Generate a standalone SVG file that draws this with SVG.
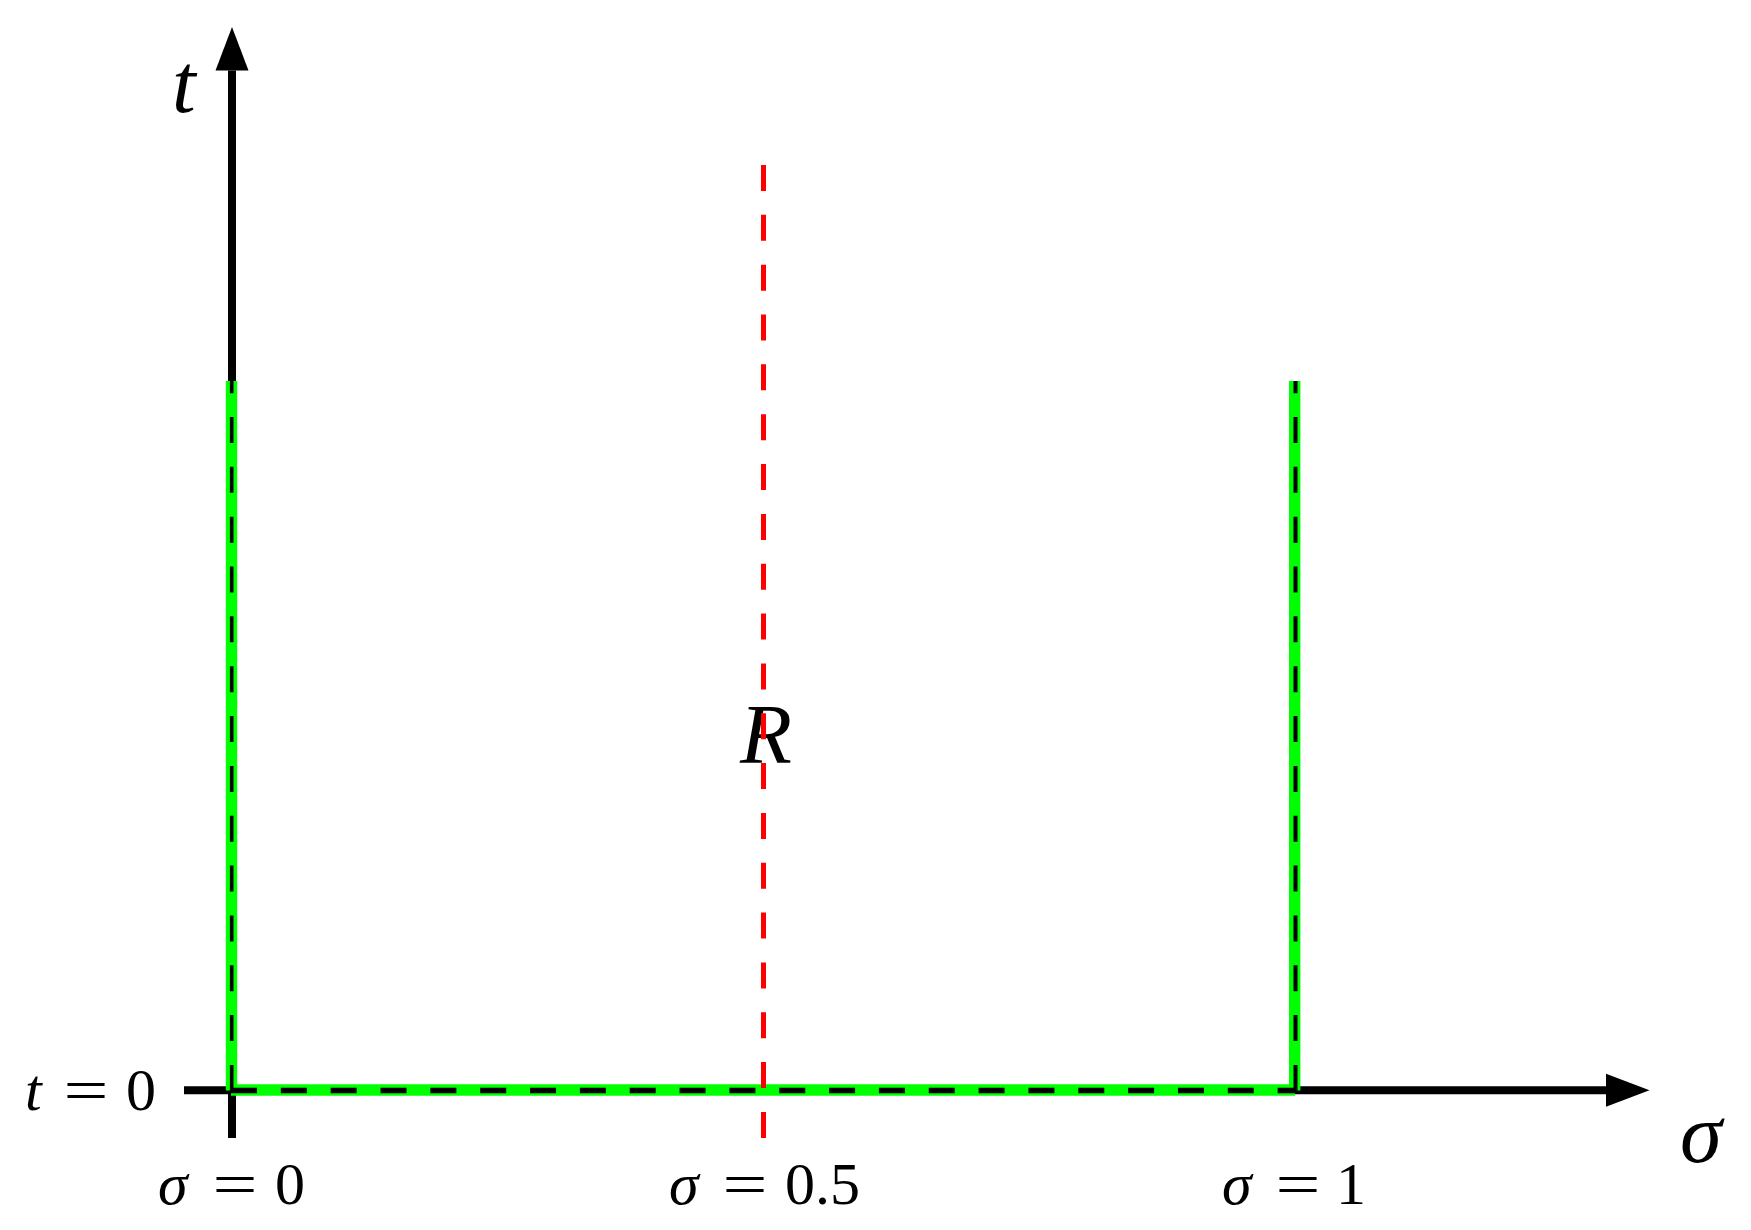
<svg xmlns="http://www.w3.org/2000/svg" width="1751" height="1230" viewBox="0 0 1751 1230">
  <style>
    .axis { stroke: #000; stroke-width: 8; fill: none; }
    .green { stroke: #00ff00; stroke-width: 11.4; fill: none; }
    .bdash { stroke: #000; fill: none; stroke-dasharray: 26 23.84; }
    .red { stroke: #ff0000; stroke-width: 5; fill: none; stroke-dasharray: 26 23.84; }
    .lbl { font-family: "Liberation Serif", "Times New Roman", serif; fill: #000; }
    .it { font-style: italic; }
    .big { font-size: 85px; }
    .small { font-size: 60px; }
  </style>
  <defs>
    <marker id="arrow" markerUnits="userSpaceOnUse" markerWidth="44" markerHeight="34" viewBox="0 -17 44 34" refX="0" refY="0" orient="auto">
      <path d="M0,-16.5 L43.5,0 L0,16.5 Z" fill="#000"/>
    </marker>
  </defs>
  <rect width="1751" height="1230" fill="#fff"/>

  <g id="connectors">
    <line id="t-axis" class="axis" x1="232" y1="1138" x2="232" y2="70.5" marker-end="url(#arrow)"/>
    <line id="sigma-axis" class="axis" x1="184" y1="1090.3" x2="1606" y2="1090.3" marker-end="url(#arrow)"/>
    <g id="boundary-green">
      <line class="green" x1="231.5" y1="381" x2="231.5" y2="1090.5"/>
      <line class="green" x1="231" y1="1090" x2="1295" y2="1090"/>
      <line class="green" x1="1294.7" y1="381" x2="1294.7" y2="1090.5"/>
    </g>
    <g id="boundary-dashed">
      <line class="bdash" stroke-width="3.6" stroke-dashoffset="13.84" x1="231.7" y1="381" x2="231.7" y2="1091"/>
      <line class="bdash" stroke-width="5.5" x1="231" y1="1090.5" x2="1295" y2="1090.5"/>
      <line class="bdash" stroke-width="4" stroke-dashoffset="13.84" x1="1295.5" y1="381" x2="1295.5" y2="1091"/>
    </g>
  </g>

  <g id="labels">
    <text id="label-t" class="lbl it big" x="172" y="112">t</text>
    <text id="label-sigma" class="lbl it big" x="1680" y="1162">σ</text>
    <g id="label-t0">
      <text class="lbl it small" x="25" y="1110">t</text>
      <text class="lbl small" text-anchor="middle" transform="translate(86,1110) scale(1.33,1)">=</text>
      <text class="lbl small" x="126" y="1110">0</text>
    </g>
    <g id="label-s0">
      <text class="lbl it small" x="158" y="1204">σ</text>
      <text class="lbl small" text-anchor="middle" transform="translate(235,1204) scale(1.33,1)">=</text>
      <text class="lbl small" x="275" y="1204">0</text>
    </g>
    <g id="label-s05">
      <text class="lbl it small" x="669" y="1204">σ</text>
      <text class="lbl small" text-anchor="middle" transform="translate(745,1204) scale(1.33,1)">=</text>
      <text class="lbl small" x="785" y="1204">0.5</text>
    </g>
    <g id="label-s1">
      <text class="lbl it small" x="1222" y="1204">σ</text>
      <text class="lbl small" text-anchor="middle" transform="translate(1298,1204) scale(1.33,1)">=</text>
      <text class="lbl small" x="1336" y="1204">1</text>
    </g>
    <text id="label-R" class="lbl it big" x="740" y="763">R</text>
  </g>

  <g id="midline">
    <line class="red" x1="763.5" y1="165" x2="763.5" y2="1138"/>
  </g>
</svg>
